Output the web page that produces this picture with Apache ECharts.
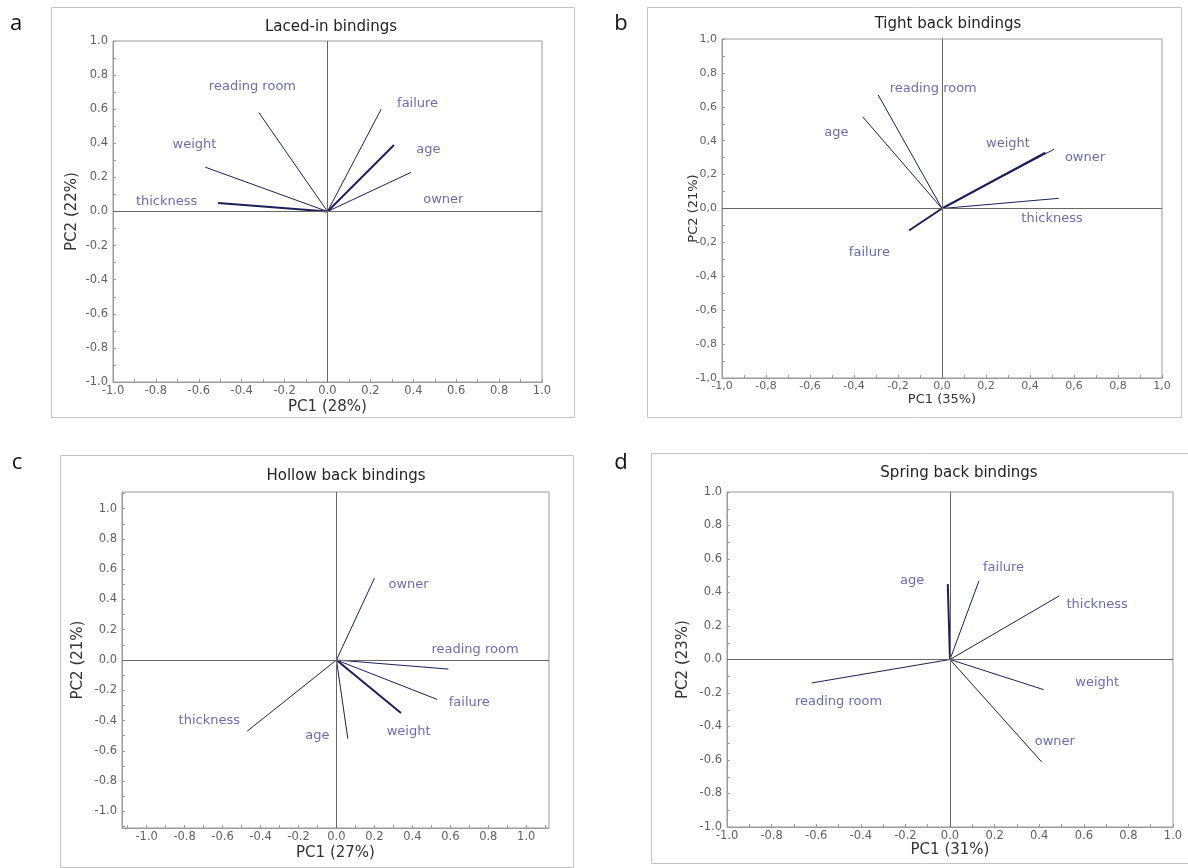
<!DOCTYPE html>
<html><head><meta charset="utf-8">
<script src="https://cdn.jsdelivr.net/npm/echarts@6/dist/echarts.min.js"></script>
<style>html,body{margin:0;padding:0;background:#fff}#c{width:1188px;height:868px}</style>
</head><body><div id="c"></div>
<script>
// ---- data ----
const variablesA = ['reading room', 'failure', 'weight', 'age', 'thickness', 'owner'];
const pc1A = [-0.32, 0.25, -0.57, 0.31, -0.51, 0.39];
const pc2A = [0.58, 0.60, 0.26, 0.39, 0.05, 0.23];
const labelPc1A = [-0.35, 0.42, -0.62, 0.47, -0.75, 0.54];
const labelPc2A = [0.73, 0.63, 0.39, 0.36, 0.06, 0.07];

const variablesB = ['reading room', 'age', 'weight', 'owner', 'thickness', 'failure'];
const pc1B = [-0.29, -0.36, 0.47, 0.51, 0.53, -0.15];
const pc2B = [0.67, 0.54, 0.33, 0.35, 0.06, -0.13];
const labelPc1B = [-0.04, -0.48, 0.30, 0.65, 0.50, -0.33];
const labelPc2B = [0.71, 0.45, 0.38, 0.30, -0.06, -0.26];

const variablesC = ['owner', 'reading room', 'failure', 'weight', 'age', 'thickness'];
const pc1C = [0.20, 0.59, 0.53, 0.34, 0.06, -0.47];
const pc2C = [0.54, -0.06, -0.26, -0.35, -0.52, -0.47];
const labelPc1C = [0.38, 0.73, 0.70, 0.38, -0.10, -0.67];
const labelPc2C = [0.50, 0.07, -0.28, -0.47, -0.50, -0.40];

const variablesD = ['age', 'failure', 'thickness', 'weight', 'owner', 'reading room'];
const pc1D = [-0.01, 0.13, 0.49, 0.42, 0.41, -0.62];
const pc2D = [0.45, 0.47, 0.38, -0.18, -0.61, -0.14];
const labelPc1D = [-0.17, 0.24, 0.66, 0.66, 0.47, -0.50];
const labelPc2D = [0.47, 0.55, 0.33, -0.14, -0.49, -0.25];

const tickLabels = [-1.0, -0.8, -0.6, -0.4, -0.2, 0.0, 0.2, 0.4, 0.6, 0.8, 1.0];
const minorTicks = [-1.0, -0.9, -0.8, -0.7, -0.6, -0.5, -0.4, -0.3, -0.2, -0.1, 0.0, 0.1, 0.2, 0.3, 0.4, 0.5, 0.6, 0.7, 0.8, 0.9, 1.0];
const minorTicksC = [-1.1, -1.0, -0.9, -0.8, -0.7, -0.6, -0.5, -0.4, -0.3, -0.2, -0.1, 0.0, 0.1, 0.2, 0.3, 0.4, 0.5, 0.6, 0.7, 0.8, 0.9, 1.0, 1.1];

// ---- panel configuration ----
const FONT = 'DejaVu Sans';
const panels = [
  { letter: 'a', title: 'Laced-in bindings', xName: 'PC1 (28%)', yName: 'PC2 (22%)',
    vars: variablesA, pc1: pc1A, pc2: pc2A, lx: labelPc1A, ly: labelPc2A, bold: ['age', 'thickness'],
    grid: { left: 113, top: 41, width: 429, height: 341 }, xr: [-1, 1], yr: [-1, 1], ticks: minorTicks, dec: '.',
    frame: [51, 7, 523, 410], letterPos: [16, 24], titlePos: [331, 27], xGap: 18, yGap: 33, nameSize: 15, tickSize: 11.5, titleSize: 15 },
  { letter: 'b', title: 'Tight back bindings', xName: 'PC1 (35%)', yName: 'PC2 (21%)',
    vars: variablesB, pc1: pc1B, pc2: pc2B, lx: labelPc1B, ly: labelPc2B, bold: ['weight', 'failure'],
    grid: { left: 722, top: 39, width: 440, height: 339 }, xr: [-1, 1], yr: [-1, 1], ticks: minorTicks, dec: ',',
    frame: [647, 7, 534, 410], letterPos: [621, 24], titlePos: [948, 24], xGap: 15, yGap: 22, nameSize: 13, tickSize: 11, titleSize: 15 },
  { letter: 'c', title: 'Hollow back bindings', xName: 'PC1 (27%)', yName: 'PC2 (21%)',
    vars: variablesC, pc1: pc1C, pc2: pc2C, lx: labelPc1C, ly: labelPc2C, bold: ['weight'],
    grid: { left: 122, top: 492, width: 427, height: 336 }, xr: [-1.13, 1.12], yr: [-1.11, 1.11], ticks: minorTicksC, dec: '.',
    frame: [60, 455, 513, 412], letterPos: [17, 463], titlePos: [346, 476], xGap: 18, yGap: 36, nameSize: 15, tickSize: 11.5, titleSize: 15 },
  { letter: 'd', title: 'Spring back bindings', xName: 'PC1 (31%)', yName: 'PC2 (23%)',
    vars: variablesD, pc1: pc1D, pc2: pc2D, lx: labelPc1D, ly: labelPc2D, bold: ['age'],
    grid: { left: 727, top: 492, width: 446, height: 335 }, xr: [-1, 1], yr: [-1, 1], ticks: minorTicks, dec: '.',
    frame: [651, 453, 545, 410], letterPos: [621, 463], titlePos: [959, 473], xGap: 16, yGap: 36, nameSize: 15, tickSize: 11.5, titleSize: 15 }
];

const AXIS_COLOR = '#9a9a9a';
const LABEL_COLOR = '#626262';
const VEC_COLOR = '#1e1e58';
const VAR_COLOR = '#46469c';

const grids = [], xAxes = [], yAxes = [], series = [], graphics = [];

panels.forEach((p, i) => {
  grids.push(Object.assign({ show: true, borderColor: AXIS_COLOR, borderWidth: 1, backgroundColor: 'transparent' }, p.grid));
  const fmt = v => v.toFixed(1).replace('.', p.dec);
  const axisCommon = (range, gap, name, isY) => ({
    gridIndex: i, type: 'value', min: range[0], max: range[1],
    name: name, nameLocation: 'middle', nameGap: gap, nameMoveOverlap: false,
    nameTextStyle: { fontFamily: FONT, fontSize: p.nameSize, color: '#333' },
    axisLine: { show: true, onZero: false, lineStyle: { color: AXIS_COLOR } },
    axisTick: { show: true, inside: true, length: 3, customValues: p.ticks, lineStyle: { color: AXIS_COLOR } },
    axisLabel: { customValues: tickLabels, formatter: fmt, color: LABEL_COLOR, fontFamily: FONT,
      fontSize: p.tickSize, margin: isY ? 5 : 3, showMinLabel: true, showMaxLabel: true, hideOverlap: false },
    splitLine: { show: false }
  });
  xAxes.push(axisCommon(p.xr, p.xGap, p.xName, false));
  const ya = axisCommon(p.yr, p.yGap, p.yName, true);
  ya.nameRotate = 90;
  yAxes.push(ya);

  series.push({
    type: 'lines', coordinateSystem: 'cartesian2d', xAxisIndex: i, yAxisIndex: i, silent: true, z: 3,
    data: p.vars.map((v, k) => ({
      name: v, coords: [[0, 0], [p.pc1[k], p.pc2[k]]],
      lineStyle: { width: p.bold.includes(v) ? 2 : 1 }
    })),
    lineStyle: { color: VEC_COLOR, opacity: 1, width: 1 }
  });
  series.push({
    type: 'scatter', xAxisIndex: i, yAxisIndex: i, silent: true, symbolSize: 1, z: 4,
    itemStyle: { color: 'rgba(0,0,0,0)' },
    data: p.vars.map((v, k) => ({ name: v, value: [p.lx[k], p.ly[k]] })),
    label: { show: true, position: 'inside', formatter: d => d.name, color: VAR_COLOR, fontFamily: FONT, fontSize: 13 },
    markLine: {
      silent: true, symbol: ['none', 'none'], animation: false, label: { show: false },
      lineStyle: { color: '#666', type: 'solid', width: 1 },
      data: [{ xAxis: 0 }, { yAxis: 0 }]
    }
  });

  graphics.push({ type: 'rect', shape: { x: p.frame[0] + 0.5, y: p.frame[1] + 0.5, width: p.frame[2], height: p.frame[3] },
    style: { fill: 'none', stroke: '#c4c4c4', lineWidth: 1 }, z: -1 });
  graphics.push({ type: 'text', x: p.letterPos[0], y: p.letterPos[1],
    style: { text: p.letter, font: '22px "Open Sans"', fill: '#111', align: 'center', verticalAlign: 'middle' } });
  graphics.push({ type: 'text', x: p.titlePos[0], y: p.titlePos[1],
    style: { text: p.title, font: p.titleSize + 'px "' + FONT + '"', fill: '#222', align: 'center', verticalAlign: 'middle' } });
});

const chart = echarts.init(document.getElementById('c'), null, { renderer: 'canvas' });
chart.setOption({
  animation: false,
  backgroundColor: '#fff',
  grid: grids, xAxis: xAxes, yAxis: yAxes, series: series, graphic: graphics
});
</script></body></html>
